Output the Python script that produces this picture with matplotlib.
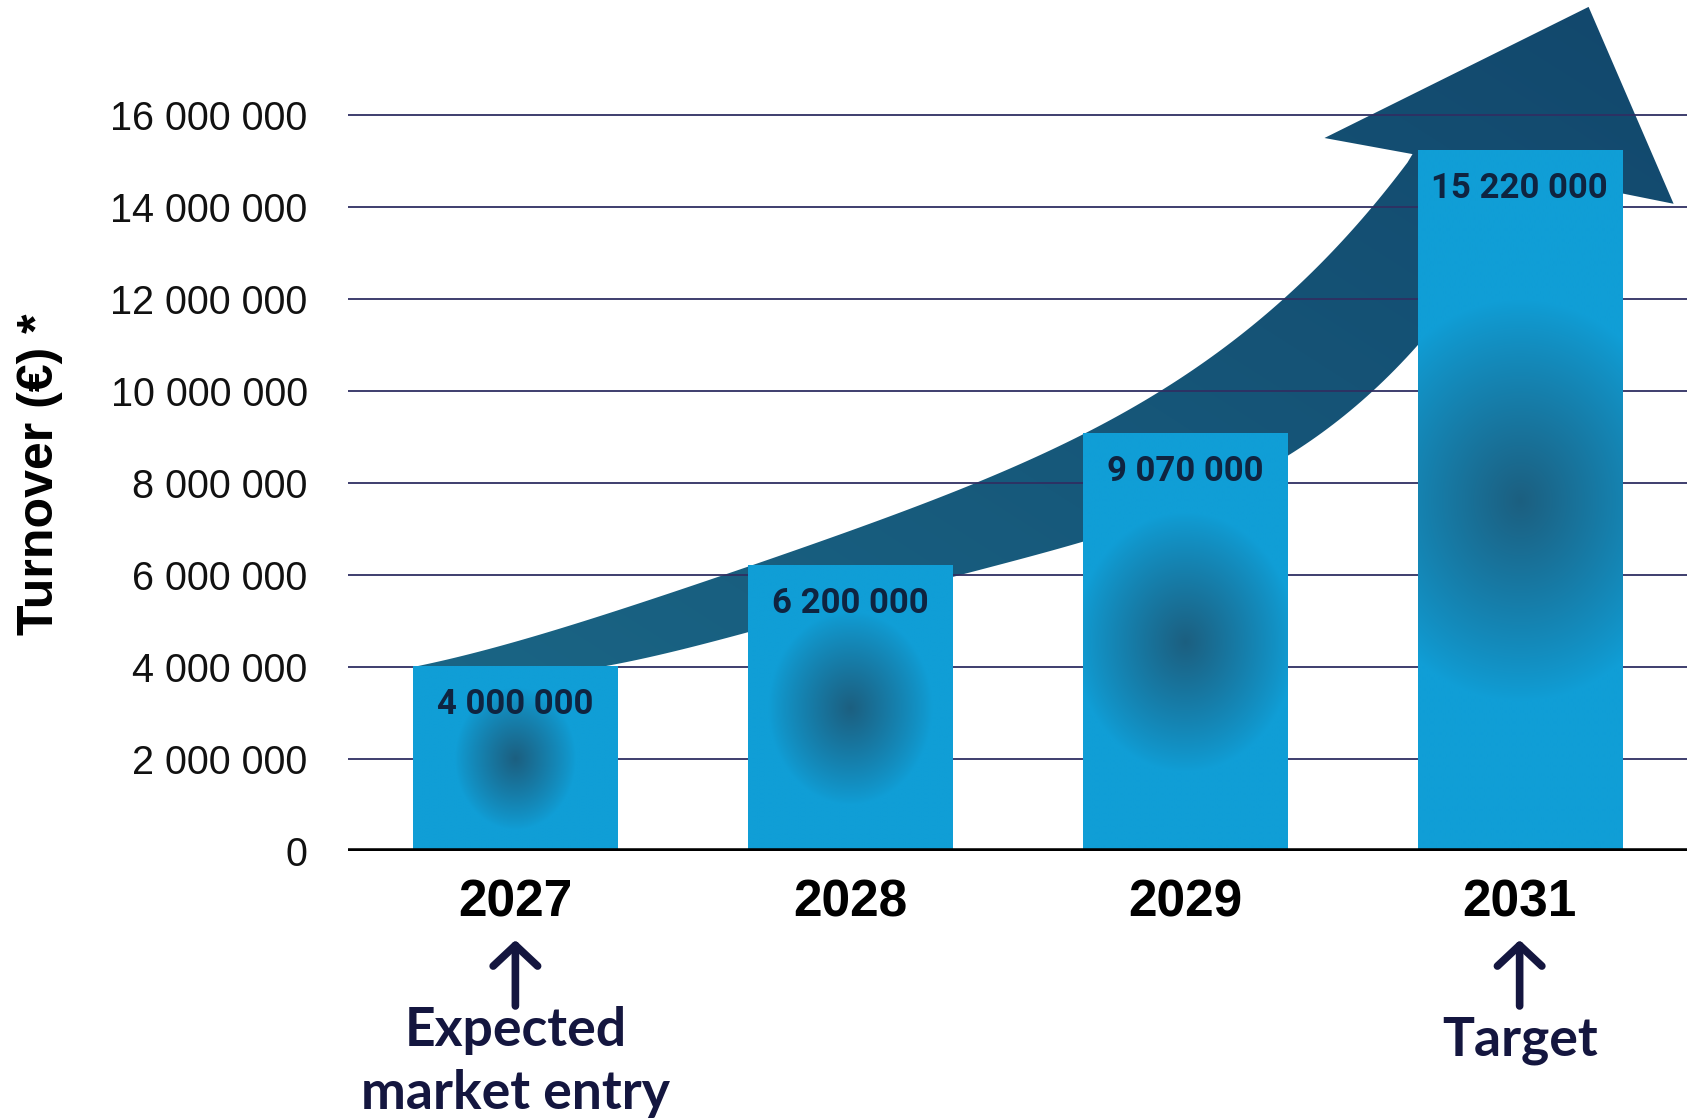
import numpy as np
import matplotlib.pyplot as plt
from matplotlib.patches import Polygon
from matplotlib.colors import to_rgb

# 数据
years = ['2027', '2028', '2029', '2031']
turnover = [4_000_000, 6_200_000, 9_070_000, 15_220_000]
y_ticks = [0, 2_000_000, 4_000_000, 6_000_000, 8_000_000,
           10_000_000, 12_000_000, 14_000_000, 16_000_000]
notes = {0: 'Expected\nmarket entry', 3: 'Target'}

# 装饰用的大箭头轮廓（数据坐标）
arrow_top = [(-0.305, 4.0e6), (0.622, 6.0e6), (0.696, 6.196e6), (1.150, 7.35e6),
             (1.383, 8.0e6), (1.694, 9.065e6), (1.921, 10.0e6), (2.196, 11.39e6),
             (2.292, 11.98e6), (2.563, 13.98e6), (2.680, 15.15e6)]
arrow_head = [(2.417, 15.5e6), (3.206, 18.35e6), (3.460, 14.07e6), (3.030, 14.7e6)]
arrow_bottom = [(-0.305, 4.0e6), (0.173, 4.02e6), (0.305, 4.13e6), (0.696, 4.59e6),
                (1.306, 5.96e6), (1.694, 6.70e6), (2.303, 8.80e6), (2.495, 9.67e6),
                (2.560, 10.0e6), (2.695, 10.67e6), (2.85, 12.3e6), (3.030, 14.7e6)]

W, H, DPI = 1696, 1118, 100
fig = plt.figure(figsize=(W / DPI, H / DPI), dpi=DPI)
ax = fig.add_axes([0.2052, 0.2388, 0.7895, 0.7612])
xmin, xmax, ymax = -0.5, 3.5, 18.5e6
ax.set_xlim(xmin, xmax)
ax.set_ylim(0, ymax)

# 每单位对应的像素，用来在像素空间里做平滑和径向渐变
px_x = 0.7895 * W / (xmax - xmin)
px_y = 0.7612 * H / ymax


def smooth_edge(pts, deg=4, n=200):
    p = np.array(pts)
    xs, ys = p[:, 0] * px_x, p[:, 1] * px_y
    coef = np.polyfit(xs, ys, deg)
    xx = np.linspace(xs[0], xs[-1], n)
    yy = np.polyval(coef, xx)
    yy[0], yy[-1] = ys[0], ys[-1]
    return np.column_stack([xx / px_x, yy / px_y])


top = smooth_edge(arrow_top, deg=4)
bot = smooth_edge(arrow_bottom, deg=4)
outline = np.vstack([top, np.array(arrow_head), bot[::-1]])
poly = Polygon(outline, closed=True, facecolor='none', edgecolor='none')
ax.add_patch(poly)

# 箭头的渐变色
c1, c2 = np.array(to_rgb('#1a6585')), np.array(to_rgb('#12476c'))
gx, gy = np.meshgrid(np.linspace(0, 1, 300), np.linspace(0, 1, 300))
g = np.clip(0.55 * gx + 0.45 * gy, 0, 1)[..., None]
arrow_img = c1 * (1 - g) + c2 * g
im = ax.imshow(arrow_img, extent=[-0.35, 3.5, 3.9e6, 18.5e6], origin='lower',
               aspect='auto', zorder=0.5, interpolation='bilinear')
im.set_clip_path(poly)

# 网格线
for t in y_ticks[1:]:
    ax.axhline(t, color='#2f2f62', lw=1.3, zorder=1)
ax.axhline(0, color='black', lw=4, zorder=4)

# 柱子 + 中心的径向渐变
bar_w = 0.61
base = np.array(to_rgb('#109ed6'))
core = np.array(to_rgb('#1c5f80'))
x_pos = np.arange(len(years))
ax.bar(x_pos, turnover, width=bar_w, color='#109ed6', zorder=2)
for i, v in enumerate(turnover):
    wpx, hpx = bar_w * px_x, v * px_y
    ry = 0.25 * hpx + 25
    rx = 0.85 * ry
    xs = np.linspace(-wpx / 2, wpx / 2, 200)
    ys = np.linspace(0, hpx, int(hpx))
    X, Y = np.meshgrid(xs, ys)
    d = np.sqrt((X / rx) ** 2 + ((Y - hpx / 2) / ry) ** 2)
    t = np.clip(1 - d, 0, 1) ** 0.9
    img = base * (1 - t[..., None]) + core * t[..., None]
    ax.imshow(img, extent=[i - bar_w / 2, i + bar_w / 2, 0, v], origin='lower',
              aspect='auto', zorder=2.1, interpolation='bilinear')
    ax.annotate(f'{v:,.0f}'.replace(',', ' '), xy=(i, v), xytext=(0, -27),
                textcoords='offset points', ha='center', va='center',
                fontsize=25, fontweight='bold', color='#0f2440',
                family='Roboto', zorder=3)

ax.set_xlim(xmin, xmax)
ax.set_ylim(0, ymax)

# 坐标轴
ax.set_yticks(y_ticks)
ax.set_yticklabels([f'{t:,.0f}'.replace(',', ' ') for t in y_ticks],
                   fontsize=28.5, family='Liberation Sans', color='#111111')
ax.set_xticks(x_pos)
ax.set_xticklabels(years, fontsize=37, fontweight='bold', family='Liberation Sans')
ax.tick_params(axis='y', length=0, pad=29)
ax.tick_params(axis='x', length=0, pad=20)
for s in ax.spines.values():
    s.set_visible(False)

fig.text(40 / W, (H - 474) / H, 'Turnover (€) *', rotation=90, ha='center',
         va='center', fontsize=36, fontweight='bold', family='Liberation Sans')

# 下方的小箭头和注释
for i, note in notes.items():
    ax.annotate('', xy=(i, (H - 940) / H), xytext=(i, (H - 1006) / H),
                xycoords=('data', 'figure fraction'),
                textcoords=('data', 'figure fraction'),
                arrowprops=dict(arrowstyle='->,head_length=1.5,head_width=1.6',
                                color='#14163f', lw=5.5, shrinkA=0, shrinkB=0),
                annotation_clip=False)
    ny = 0.0500 if '\n' in note else 0.0689
    ax.annotate(note, xy=(i, ny), xycoords=('data', 'figure fraction'),
                ha='center', va='center', fontsize=38.5, fontweight='bold',
                family='Lato', color='#14163f', linespacing=1.35,
                annotation_clip=False)

fig.savefig('out.png', dpi=DPI)
